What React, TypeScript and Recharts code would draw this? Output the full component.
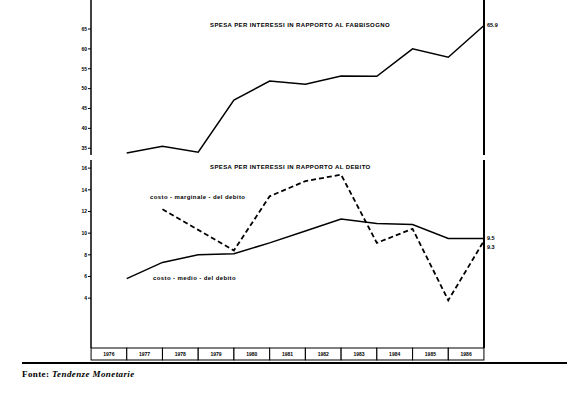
import React from "react"
import { LineChart, Line, XAxis, YAxis, LabelList } from "recharts"

const years = [1976, 1977, 1978, 1979, 1980, 1981, 1982, 1983, 1984, 1985, 1986]
const fabbisogno = [33.8, 35.5, 34.0, 47.1, 51.9, 51.1, 53.2, 53.1, 60.0, 57.9, 65.9]
const costoMedio = [5.8, 7.3, 8.0, 8.1, 9.1, 10.2, 11.3, 10.9, 10.8, 9.5, 9.5]
const costoMarginale = [null, 12.2, 10.3, 8.4, 13.4, 14.8, 15.4, 9.1, 10.4, 3.8, 9.3]

const topTicks = [35, 40, 45, 50, 55, 60, 65]
const bottomTicks = [4, 6, 8, 10, 12, 14, 16]
const boxTicks = years.map((y) => y - 0.5)

const topData = years.map((year, i) => ({ year, fabbisogno: fabbisogno[i] }))
const bottomData = years.map((year, i) => ({
  year,
  medio: costoMedio[i],
  marginale: costoMarginale[i],
}))

const sans = "'Liberation Sans', Arial, sans-serif"
const tickStyle = { fontSize: 5, fontWeight: "bold", fill: "#000", fontFamily: sans }

const lastLabel = (count: number, dy: number) => (props: any) => {
  const { x, y, index, value } = props
  if (index !== count - 1) return null
  return (
    <text x={x + 3} y={y + dy} fontSize={5.5} fontWeight="bold" fontFamily={sans} fill="#000">
      {value}
    </text>
  )
}

const YearBox = (props: any) => {
  const { x, y, payload } = props
  const w = 35.6
  return (
    <g>
      <rect x={x - w / 2} y={y} width={w} height={12} fill="#fff" stroke="#000" strokeWidth={1} />
      <text x={x} y={y + 8} textAnchor="middle" fontSize={5} fontWeight="bold" fontFamily={sans} fill="#000">
        {Math.ceil(payload.value)}
      </text>
    </g>
  )
}

const label = (left: number, top: number, text: string, size = 6) => (
  <div
    style={{
      position: "absolute",
      left,
      top,
      fontFamily: sans,
      fontSize: size,
      fontWeight: "bold",
      letterSpacing: 0.4,
      whiteSpace: "nowrap",
      lineHeight: 1,
    }}
  >
    {text}
  </div>
)

export default function App() {
  return (
    <div style={{ position: "absolute", left: 0, top: 0, width: 567, height: 395, background: "#fff", overflow: "hidden" }}>
      <div style={{ position: "absolute", left: 0, top: 0 }}>
        <LineChart width={567} height={158} data={topData} margin={{ top: 0, right: 82, left: 61, bottom: 3 }}>
          <XAxis dataKey="year" type="number" domain={[1975, 1986]} hide />
          <YAxis
            yAxisId="l"
            width={30}
            domain={[33.3, 72.3]}
            ticks={topTicks}
            tick={tickStyle}
            tickSize={3}
            tickMargin={1}
            axisLine={{ stroke: "#000", strokeWidth: 1.5 }}
            tickLine={{ stroke: "#000" }}
          />
          <YAxis
            yAxisId="r"
            orientation="right"
            width={1}
            tick={false}
            tickLine={false}
            axisLine={{ stroke: "#000", strokeWidth: 2 }}
          />
          <Line
            yAxisId="l"
            dataKey="fabbisogno"
            stroke="#000"
            strokeWidth={1.5}
            dot={false}
            isAnimationActive={false}
          >
            <LabelList dataKey="fabbisogno" content={lastLabel(years.length, 2)} />
          </Line>
        </LineChart>
      </div>

      <div style={{ position: "absolute", left: 0, top: 160 }}>
        <LineChart width={567} height={205} data={bottomData} margin={{ top: 0, right: 82, left: 61, bottom: 3 }}>
          <XAxis
            dataKey="year"
            type="number"
            domain={[1975, 1986]}
            ticks={boxTicks}
            tick={<YearBox />}
            tickSize={0}
            tickMargin={0}
            height={14}
            axisLine={false}
            interval={0}
          />
          <YAxis
            yAxisId="l"
            width={30}
            domain={[-0.6, 16.75]}
            ticks={bottomTicks}
            tick={tickStyle}
            tickSize={3}
            tickMargin={1}
            axisLine={{ stroke: "#000", strokeWidth: 1.5 }}
            tickLine={{ stroke: "#000" }}
          />
          <YAxis
            yAxisId="r"
            orientation="right"
            width={1}
            tick={false}
            tickLine={false}
            axisLine={{ stroke: "#000", strokeWidth: 2 }}
          />
          <Line
            yAxisId="l"
            dataKey="medio"
            stroke="#000"
            strokeWidth={1.5}
            dot={false}
            isAnimationActive={false}
          >
            <LabelList dataKey="medio" content={lastLabel(years.length, 1)} />
          </Line>
          <Line
            yAxisId="l"
            dataKey="marginale"
            stroke="#000"
            strokeWidth={1.8}
            strokeDasharray="5 3"
            dot={false}
            connectNulls={false}
            isAnimationActive={false}
          >
            <LabelList dataKey="marginale" content={lastLabel(years.length, 8)} />
          </Line>
        </LineChart>
      </div>

      {label(210, 22, "SPESA PER INTERESSI IN RAPPORTO AL FABBISOGNO")}
      {label(210, 164, "SPESA PER INTERESSI IN RAPPORTO AL DEBITO")}
      {label(150, 194, "costo - marginale - del debito")}
      {label(153, 275, "costo - medio - del debito")}

      <div style={{ position: "absolute", left: 22, top: 362, width: 545, height: 2, background: "#000" }} />
      <div
        style={{
          position: "absolute",
          left: 22,
          top: 369,
          fontFamily: "'Liberation Serif', 'Times New Roman', serif",
          fontSize: 9,
          fontWeight: "bold",
          letterSpacing: 0.4,
          whiteSpace: "nowrap",
        }}
      >
        Fonte: <i>Tendenze Monetarie</i>
      </div>
    </div>
  )
}
